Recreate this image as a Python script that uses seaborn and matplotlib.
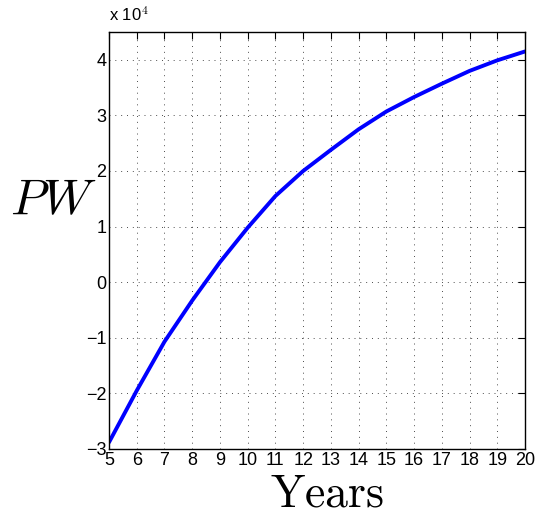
import numpy as np
import pandas as pd
import matplotlib
matplotlib.use("Agg")
import matplotlib.pyplot as plt
import seaborn as sns
from matplotlib.ticker import FuncFormatter

years = [5, 6, 7, 8, 9, 10, 11, 12, 13, 14, 15, 16, 17, 18, 19, 20]
pw = [-28800, -19500, -10700, -3300, 3600, 9800, 15500, 20000, 23800,
      27500, 30700, 33300, 35700, 38000, 39900, 41500]
x_ticks = list(range(5, 21))
y_ticks = [-30000, -20000, -10000, 0, 10000, 20000, 30000, 40000]

sns.set_style("white")
plt.rcParams['font.family'] = ['Liberation Sans', 'DejaVu Sans']
plt.rcParams['mathtext.fontset'] = 'cm'
plt.rcParams['text.color'] = 'black'
plt.rcParams['axes.labelcolor'] = 'black'

df = pd.DataFrame({"Years": years, "PW": pw})

fig = plt.figure(figsize=(5.35, 5.17), dpi=100)
ax = fig.add_axes([109/535, 1-449/517, (525-109)/535, (449-32)/517])

sns.lineplot(data=df, x="Years", y="PW", ax=ax, color=(0, 0, 1), linewidth=2.8)

ax.set_xlim(5, 20)
ax.set_ylim(-30000, 45000)
ax.set_xticks(x_ticks)
ax.set_yticks(y_ticks)
ax.yaxis.set_major_formatter(FuncFormatter(lambda v, p: f"{v/1e4:g}".replace("-", "\u2212")))
ax.tick_params(direction='in', length=5, width=0.8, labelsize=13, top=True, right=True,
               colors='black', labelcolor='black', pad=2)
ax.grid(True, linestyle=(0, (1, 5)), color='black', linewidth=0.7, alpha=0.7)
for s in ax.spines.values():
    s.set_color('black')
    s.set_linewidth(1.0)
    s.set_visible(True)

ax.set_xlabel(r'$\mathrm{Years}$', fontsize=33, labelpad=0, color='black')
ax.xaxis.set_label_coords(0.525, -0.139, transform=ax.transAxes)
ax.xaxis.label.set_va('baseline')
ax.set_ylabel(r'$PW$', fontsize=36, rotation=0, va='center', ha='center', color='black')
ax.yaxis.set_label_coords(-0.135, 0.595)
ax.text(0.0, 1.02, r'x 10$^{4}$', transform=ax.transAxes, fontsize=12, ha='left', va='bottom',
        color='black')

fig.savefig("out.png", dpi=100)
